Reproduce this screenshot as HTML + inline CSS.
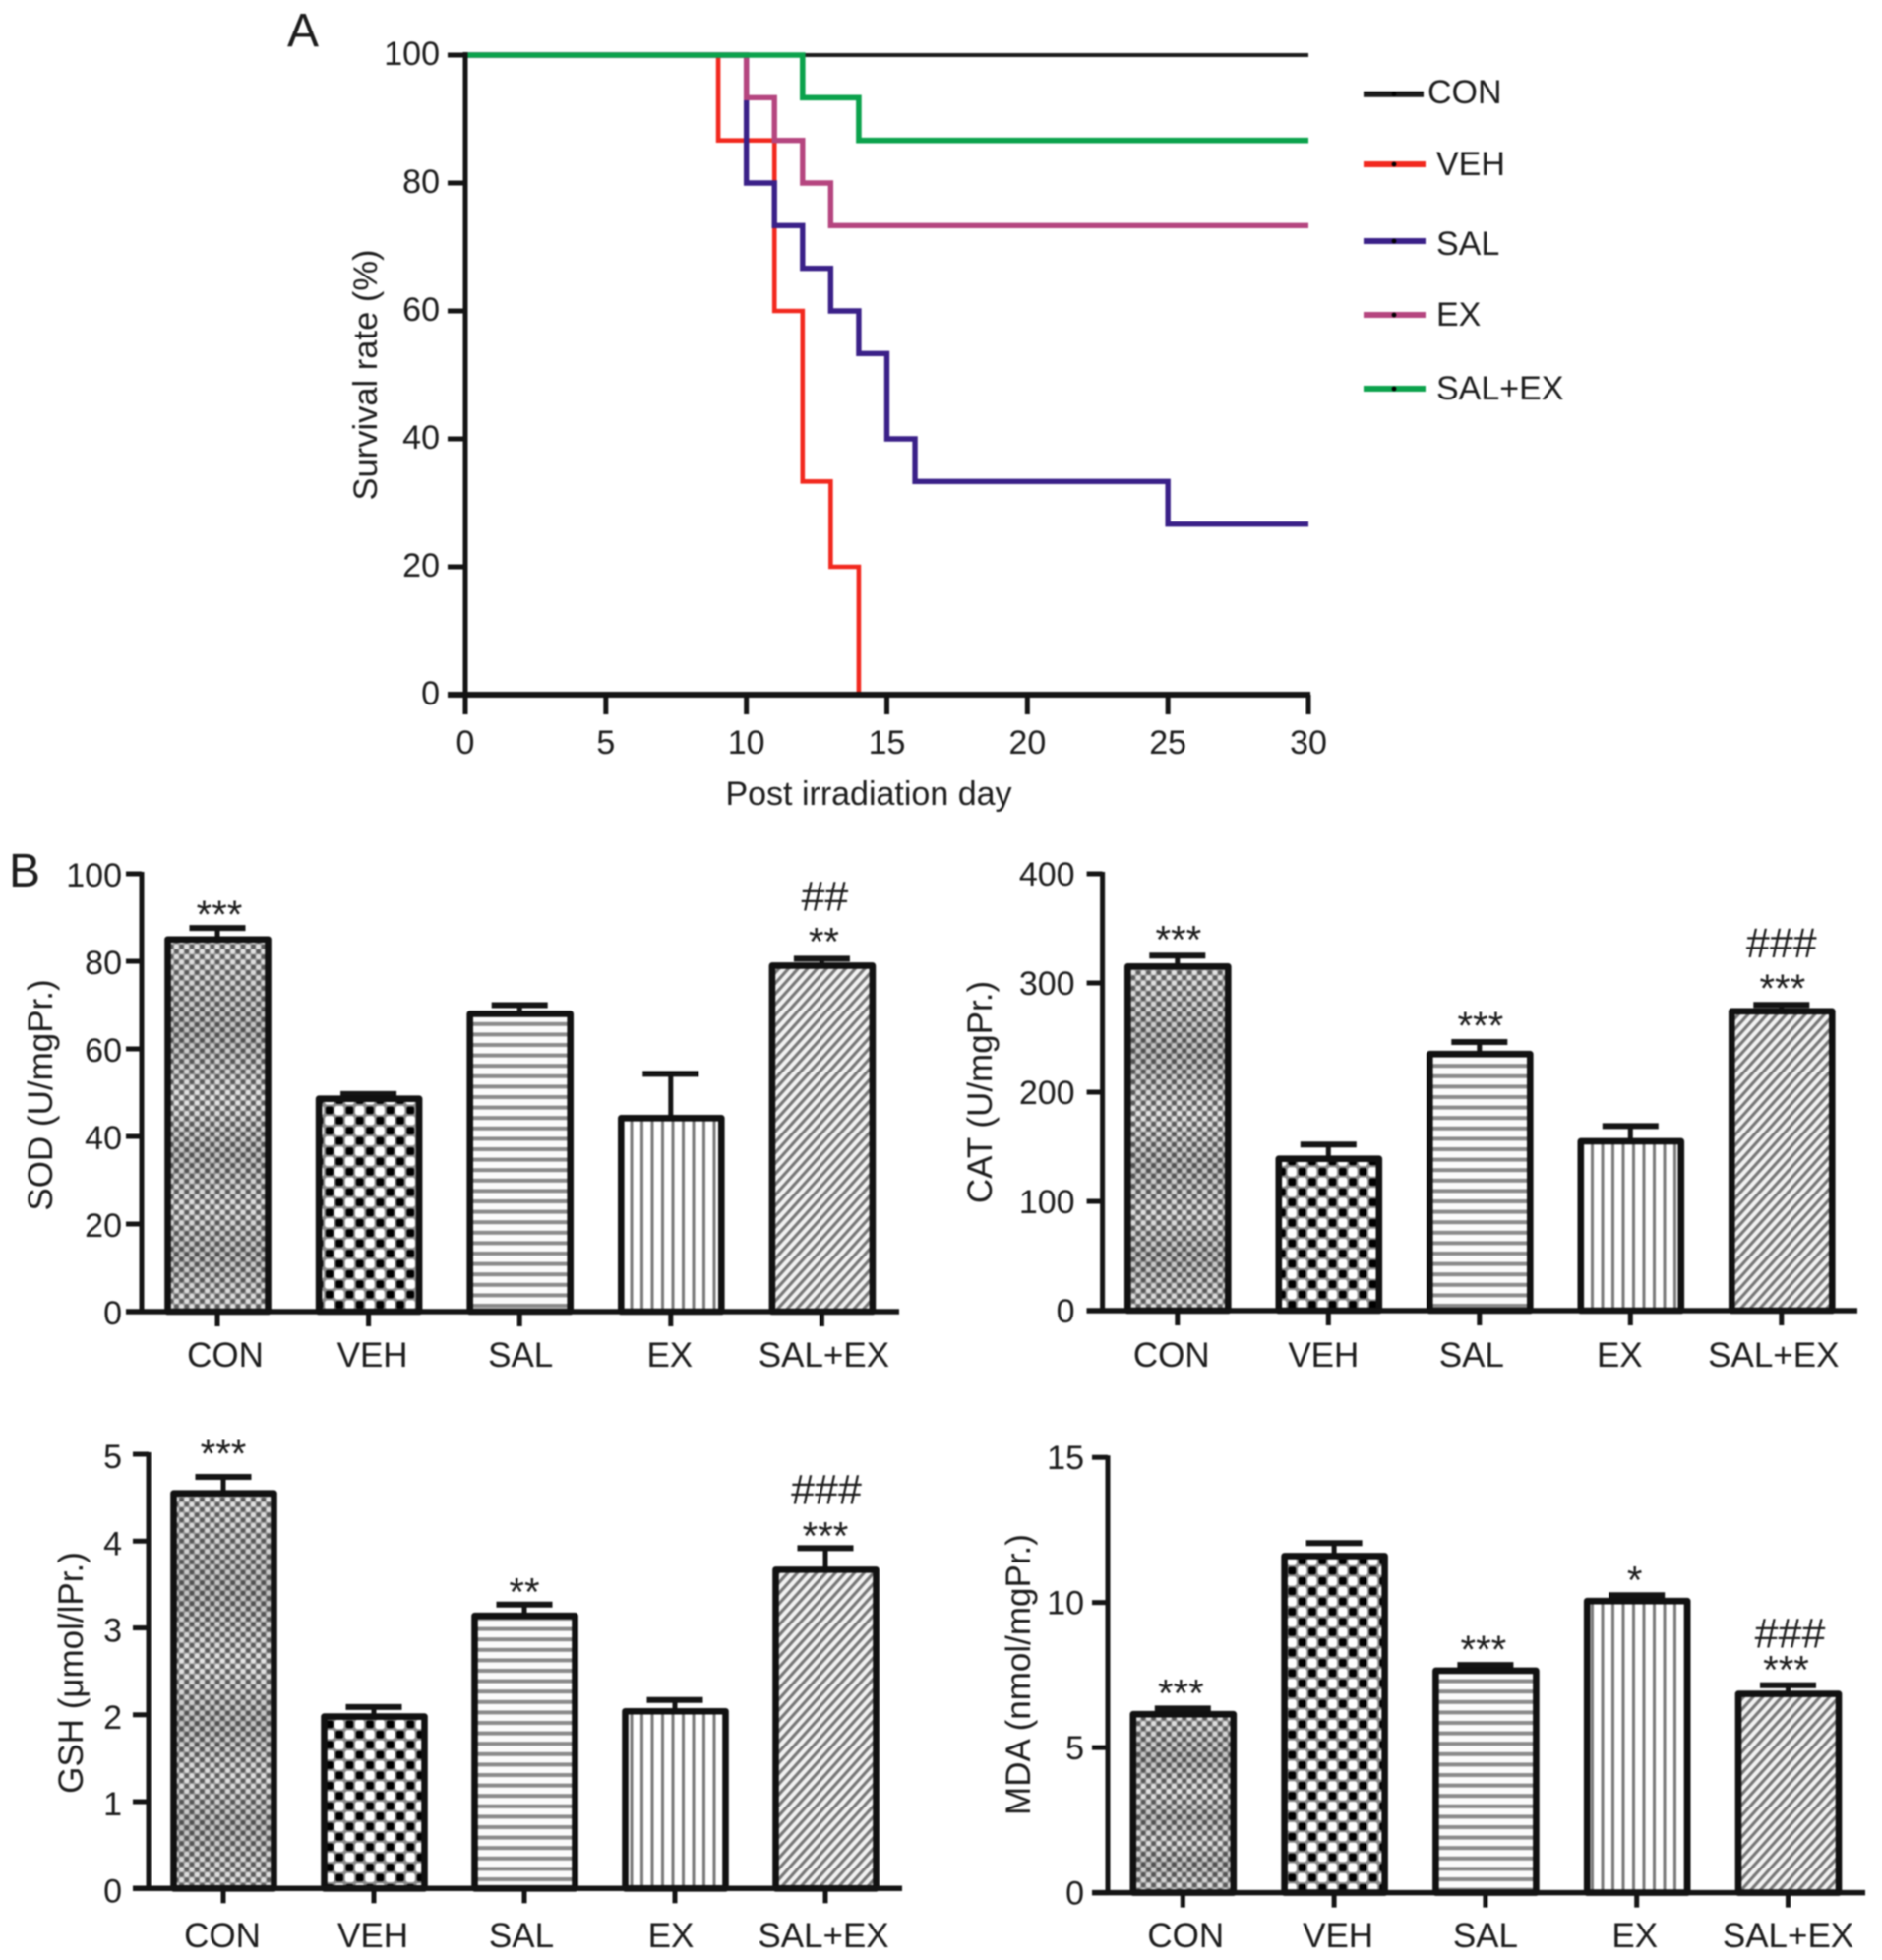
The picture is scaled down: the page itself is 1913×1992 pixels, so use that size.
<!DOCTYPE html>
<html>
<head>
<meta charset="utf-8">
<title>Survival and oxidative stress charts</title>
<style>
html,body{margin:0;padding:0;background:#fff;}
#root{display:block;width:1913px;height:1992px;filter:blur(0.8px);}
text{font-family:"Liberation Sans",Arial,sans-serif;fill:#1c1c1c;}
</style>
</head>
<body>
<svg id="root" xmlns="http://www.w3.org/2000/svg" width="1913" height="1992" viewBox="0 0 1913 1992">
<defs>
<pattern id="p-con" width="10.4" height="10.6" patternUnits="userSpaceOnUse">
<rect width="10.4" height="10.6" fill="#a0a0a0"/>
<circle cx="2.6" cy="2.65" r="2.3" fill="#5c5c5c"/>
<circle cx="7.8" cy="7.95" r="2.3" fill="#5c5c5c"/>
<circle cx="7.8" cy="2.65" r="2.5" fill="#e6e6e6"/>
<circle cx="2.6" cy="7.95" r="2.5" fill="#e6e6e6"/>
</pattern>
<pattern id="p-veh" width="20.6" height="20.8" patternUnits="userSpaceOnUse">
<rect width="20.6" height="20.8" fill="#8a8a8a"/>
<rect x="1.4" y="1.4" width="7.6" height="7.6" rx="2" fill="#000"/>
<rect x="11.7" y="11.8" width="7.6" height="7.6" rx="2" fill="#000"/>
<rect x="10.8" y="0.8" width="9.2" height="9.2" rx="2.5" fill="#fff"/>
<rect x="0.6" y="11" width="9.2" height="9.2" rx="2.5" fill="#fff"/>
</pattern>
<pattern id="p-sal" width="10.6" height="10.6" patternUnits="userSpaceOnUse">
<rect width="10.6" height="10.6" fill="#fbfbfb"/>
<rect y="0" width="10.6" height="4" fill="#8a8a8a"/>
</pattern>
<pattern id="p-ex" width="10.5" height="10.5" patternUnits="userSpaceOnUse">
<rect width="10.5" height="10.5" fill="#ffffff"/>
<rect x="0" width="3" height="10.5" fill="#7a7a7a"/>
</pattern>
<pattern id="p-se" width="7.2" height="7.2" patternUnits="userSpaceOnUse" patternTransform="rotate(42)">
<rect width="7.2" height="7.2" fill="#f2f2f2"/>
<rect x="0" width="3.1" height="7.2" fill="#767676"/>
</pattern>
<linearGradient id="con-band" x1="0" y1="0" x2="0" y2="1">
<stop offset="0" stop-color="#000" stop-opacity="0"/>
<stop offset="0.25" stop-color="#000" stop-opacity="0.15"/>
<stop offset="0.43" stop-color="#000" stop-opacity="0"/>
<stop offset="0.58" stop-color="#000" stop-opacity="0.15"/>
<stop offset="0.72" stop-color="#000" stop-opacity="0.02"/>
<stop offset="0.84" stop-color="#000" stop-opacity="0.15"/>
<stop offset="1" stop-color="#000" stop-opacity="0"/>
</linearGradient>
</defs>
</svg>
<script>
/* ---------- Panel A data ---------- */
var kmDayTicks = [0, 5, 10, 15, 20, 25, 30];
var kmRateTicks = [0, 20, 40, 60, 80, 100];
var kmGroups = ['CON', 'VEH', 'SAL', 'EX', 'SAL+EX'];
var conDays = [];
var conSurvival = [];
var vehDays = [9, 11, 12, 13, 14];
var vehSurvival = [86.67, 60, 33.33, 20, 0];
var salDays = [10, 11, 12, 13, 14, 15, 16, 25];
var salSurvival = [80, 73.33, 66.67, 60, 53.33, 40, 33.33, 26.67];
var exDays = [10, 11, 12, 13];
var exSurvival = [93.33, 86.67, 80, 73.33];
var saleDays = [12, 14];
var saleSurvival = [93.33, 86.67];

/* ---------- Panel B data ---------- */
var categories = ['CON', 'VEH', 'SAL', 'EX', 'SAL+EX'];
var sodTicks = [0, 20, 40, 60, 80, 100];
var sodMeans = [85, 48.6, 68, 44.2, 79];
var sodUpper = [87.6, 49.7, 70, 54.3, 80.6];
var sodStars = ['***', '', '', '', '**'];
var sodHashes = ['', '', '', '', '##'];
var catTicks = [0, 100, 200, 300, 400];
var catMeans = [315, 139, 235, 155, 274];
var catUpper = [325, 152, 246, 169, 280];
var catStars = ['***', '', '***', '', '***'];
var catHashes = ['', '', '', '', '###'];
var gshTicks = [0, 1, 2, 3, 4, 5];
var gshMeans = [4.55, 1.98, 3.14, 2.04, 3.67];
var gshUpper = [4.74, 2.09, 3.27, 2.17, 3.92];
var gshStars = ['***', '', '**', '', '***'];
var gshHashes = ['', '', '', '', '###'];
var mdaTicks = [0, 5, 10, 15];
var mdaMeans = [6.15, 11.6, 7.65, 10.05, 6.85];
var mdaUpper = [6.35, 12.05, 7.85, 10.25, 7.15];
var mdaStars = ['***', '', '***', '*', '***'];
var mdaHashes = ['', '', '', '', '###'];

var NS = 'http://www.w3.org/2000/svg';
var root = document.getElementById('root');
var INK = '#141414';

function mk(parent, tag, attrs, txt) {
  var el = document.createElementNS(NS, tag);
  for (var k in attrs) el.setAttribute(k, attrs[k]);
  if (txt !== undefined) el.textContent = txt;
  parent.appendChild(el);
  return el;
}
function line(parent, x1, y1, x2, y2, w, name) {
  var el = mk(parent, 'line', {x1: x1, y1: y1, x2: x2, y2: y2, stroke: INK, 'stroke-width': w});
  
  
  return el;
}
function label(parent, x, y, str, size, anchor, name) {
  var el = mk(parent, 'text', {x: x, y: y, 'font-size': size, 'text-anchor': anchor}, str);
  
  
  return el;
}

/* ---------- Panel labels ---------- */
label(root, 292, 47, 'A', 48, 'start', 'panel-a-label');
label(root, 9, 901, 'B', 48, 'start', 'panel-b-label');

/* ---------- Panel A: survival chart ---------- */
(function () {
  var g = mk(root, 'g', {});
  
  
  var x0 = 473, x1 = 1330, y0 = 706, y1 = 56;
  function sx(d) { return x0 + (x1 - x0) * d / 30; }
  function sy(v) { return y0 - (y0 - y1) * v / 100; }

  function stepPath(days, vals) {
    var d = 'M' + sx(0) + ' ' + sy(100);
    var last = 100;
    for (var i = 0; i < days.length; i++) {
      d += ' H' + sx(days[i]) + ' V' + sy(vals[i]);
      last = vals[i];
    }
    if (last > 0) d += ' H' + sx(30);
    return d;
  }
  var seriesDays = [conDays, vehDays, salDays, exDays, saleDays];
  var seriesVals = [conSurvival, vehSurvival, salSurvival, exSurvival, saleSurvival];
  var colors = ['#1a1a1a', '#f2281e', '#3a2088', '#b5457f', '#0ba24c'];
  var widths = [4, 4.6, 5.4, 5.4, 5.6];
  var names = ['con', 'veh', 'sal', 'ex', 'sal-ex'];

  for (var i = 0; i < kmGroups.length; i++) {
    var p = mk(g, 'path', {d: stepPath(seriesDays[i], seriesVals[i]), fill: 'none', stroke: colors[i], 'stroke-width': widths[i], 'stroke-linejoin': 'miter'});
    
    
  }

  line(g, x0, y1 - 3, x0, y0 + 3, 5, 'survival-y-axis');
  line(g, x0 - 18, y0, x1 + 2, y0, 6, 'survival-x-axis');
  kmRateTicks.forEach(function (v) {
    line(g, x0 - 18, sy(v), x0, sy(v), 5, 'survival-y-tick');
    label(g, x0 - 26, sy(v) + 10, String(v), 34, 'end', 'survival-y-tick-label');
  });
  kmDayTicks.forEach(function (d) {
    line(g, sx(d), y0, sx(d), y0 + 20, 5, 'survival-x-tick');
    label(g, sx(d), 766, String(d), 34, 'middle', 'survival-x-tick-label');
  });
  label(g, 883, 818, 'Post irradiation day', 34, 'middle', 'survival-x-title');
  var yt = label(g, 0, 0, 'Survival rate (%)', 34.5, 'middle', 'survival-y-title');
  yt.setAttribute('transform', 'translate(383 381) rotate(-90)');

  /* legend */
  var legendRows = [95.7, 167, 245, 320, 395];
  var legendEnd = [1447, 1449, 1449, 1449, 1449];
  var legendText = [1451, 1460, 1460, 1460, 1460];
  var legendBase = [105, 178, 259, 331, 406];
  for (var j = 0; j < kmGroups.length; j++) {
    var lg = mk(g, 'g', {});
    
    
    var ll = mk(lg, 'line', {x1: 1386, y1: legendRows[j], x2: legendEnd[j], y2: legendRows[j], stroke: colors[j], 'stroke-width': 6});
    
    
    mk(lg, 'circle', {cx: 1417, cy: legendRows[j], r: 2.4, fill: '#000'});
    label(lg, legendText[j], legendBase[j], kmGroups[j], 34, 'start', 'legend-label');
  }
})();

/* ---------- Panel B: bar charts ---------- */
function barChart(cfg, ticks, means, upper, stars, hashes) {
  var g = mk(root, 'g', {});
  
  
  var ymax = ticks[ticks.length - 1];
  function sy(v) { return cfg.y0 - (cfg.y0 - cfg.yTop) * v / ymax; }
  function cx(i) { return cfg.first + i * cfg.step; }
  var fills = ['p-con', 'p-veh', 'p-sal', 'p-ex', 'p-se'];

  for (var i = 0; i < categories.length; i++) {
    var bg = mk(g, 'g', {});
    
    
    var top = sy(means[i]), up = sy(upper[i]), c = cx(i);
    line(bg, c, top, c, up, 5, 'error-stem');
    line(bg, c - 28.5, up, c + 28.5, up, 6, 'error-cap');
    mk(bg, 'rect', {x: c - 50.5, y: top, width: 102, height: cfg.y0 - top, fill: 'url(#' + fills[i] + ')', stroke: 'none'});
    if (i === 0) mk(bg, 'rect', {x: c - 50.5, y: top, width: 102, height: cfg.y0 - top, fill: 'url(#con-band)', stroke: 'none'});
    mk(bg, 'rect', {x: c - 50.5, y: top, width: 102, height: cfg.y0 - top, fill: 'none', stroke: '#111', 'stroke-width': 6.6, 'stroke-linejoin': 'round'});

    var extra = (cfg.extraGap && cfg.extraGap[i]) || 0;
    var starCenter = up - cfg.starGap - extra;
    if (stars[i]) label(g, c + cfg.starShift, starCenter + 23, stars[i], 40, 'middle', 'significance-stars');
    if (hashes[i]) label(g, c + cfg.hashShift, starCenter - cfg.hashGap + 15, hashes[i], 43, 'middle', 'significance-hashes');

    line(g, c, cfg.y0, c, cfg.y0 + 15, 5, 'x-tick');
    label(g, c + cfg.labelShift[i], cfg.labelY, categories[i], 35, 'middle', 'x-tick-label');
  }

  line(g, cfg.axisX, cfg.yTop - 2, cfg.axisX, cfg.y0, 5, cfg.name + '-y-axis');
  line(g, cfg.axisX - 16, cfg.y0, cfg.xEnd, cfg.y0, 5.5, cfg.name + '-x-axis');
  ticks.forEach(function (v) {
    line(g, cfg.axisX - 16, sy(v), cfg.axisX, sy(v), 5, 'y-tick');
    label(g, cfg.axisX - cfg.tickGap, sy(v) + cfg.tickDrop, String(v), 34, 'end', 'y-tick-label');
  });
  var t = label(g, 0, 0, cfg.title, 35, 'middle', cfg.name + '-y-title');
  t.setAttribute('transform', 'translate(' + cfg.titleX + ' ' + cfg.titleY + ') rotate(-90)');
}

barChart({name: 'sod', title: 'SOD (U/mgPr.)', axisX: 144, xEnd: 914, y0: 1333, yTop: 888, first: 221, step: 153.6, tickDrop: 13, starShift: 2, hashShift: 3,
  labelY: 1389, labelShift: [8, 4, 1, -1, 2], tickGap: 20, starGap: 23, extraGap: {4: 4}, hashGap: 37, titleX: 53, titleY: 1113},
  sodTicks, sodMeans, sodUpper, sodStars, sodHashes);
barChart({name: 'cat', title: 'CAT (U/mgPr.)', axisX: 1120.6, xEnd: 1888, y0: 1332, yTop: 888, first: 1196.8, step: 153.5, tickDrop: 12, starShift: 1, hashShift: 0,
  labelY: 1389, labelShift: [-6, -5, -8, -11, -8], tickGap: 28, starGap: 26, hashGap: 37, titleX: 1008, titleY: 1110},
  catTicks, catMeans, catUpper, catStars, catHashes);
barChart({name: 'gsh', title: 'GSH (\u03bcmol/lPr.)', axisX: 151, xEnd: 917, y0: 1919.3, yTop: 1478, first: 227, step: 153, tickDrop: 14, starShift: 0, hashShift: 1,
  labelY: 1979, labelShift: [-1, -1, -3, -4, -2], tickGap: 27, starGap: 22, extraGap: {0: 11}, hashGap: 38, titleX: 84, titleY: 1700},
  gshTicks, gshMeans, gshUpper, gshStars, gshHashes);
barChart({name: 'mda', title: 'MDA (nmol/mgPr.)', axisX: 1126, xEnd: 1896, y0: 1923.6, yTop: 1481.2, first: 1202.3, step: 153.8, tickDrop: 12, starShift: -2, hashShift: 2,
  labelY: 1979, labelShift: [3, 4, 0, -2, 0], tickGap: 24, starGap: 25, hashGap: 28, titleX: 1047, titleY: 1702},
  mdaTicks, mdaMeans, mdaUpper, mdaStars, mdaHashes);
</script>
</body>
</html>
